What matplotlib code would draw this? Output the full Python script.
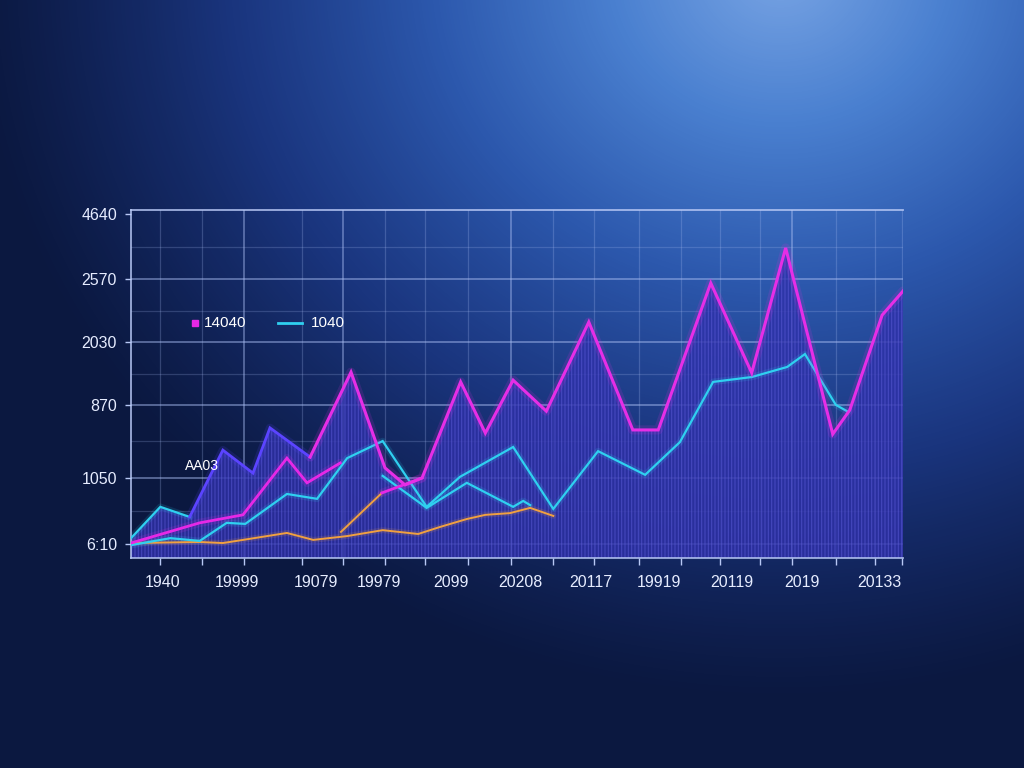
import numpy as np
import matplotlib
matplotlib.use("Agg")
import matplotlib.pyplot as plt
from matplotlib.colors import LinearSegmentedColormap

plt.rcParams['font.family'] = ['Liberation Sans', 'DejaVu Sans']
plt.rcParams['hatch.linewidth'] = 0.8

# ---------------- data (0-100 index scale) ----------------
main_x = [0, 3.8, 7.6, 11.9, 15.8, 18.0, 23.2, 28.5, 32.9, 35.5, 37.7, 42.7, 45.9, 49.5,
          53.8, 59.3, 65.0, 68.3, 75.1, 80.4, 84.8, 90.9, 93.1, 97.3, 100]
main_y = [5.7, 14.7, 11.8, 31.0, 24.4, 37.4, 29.0, 53.4, 25.9, 21.0, 23.0, 50.6, 35.9, 51.1,
          42.2, 67.8, 36.8, 36.8, 79.0, 53.2, 89.1, 35.6, 42.5, 69.8, 76.7]

mag2_x = [0, 8.9, 14.5, 20.2, 22.8, 27.1]
mag2_y = [4.3, 10.1, 12.4, 28.7, 21.6, 27.3]

mag3_x = [32.5, 37.7]
mag3_y = [18.7, 23.0]

cyan_x = [0, 5.1, 8.9, 12.4, 14.8, 20.2, 24.1, 28.0, 32.6, 38.3, 42.6, 49.5, 54.7, 60.5,
          66.6, 71.1, 75.4, 80.4, 85.0, 87.3, 91.3, 92.9]
cyan_y = [3.7, 5.7, 4.9, 10.1, 9.8, 18.4, 17.0, 28.7, 33.6, 14.7, 23.3, 31.9, 14.1, 30.7,
          23.9, 33.3, 50.6, 52.0, 54.9, 58.6, 44.0, 42.0]

cyan2_x = [32.6, 38.3, 43.5, 49.5, 50.8, 51.7]
cyan2_y = [23.6, 14.4, 21.6, 14.7, 16.4, 15.2]

orange_x = [0, 8.9, 11.9, 14.5, 20.2, 23.6, 28.0, 32.6, 37.2, 40.0, 43.5, 45.9, 49.1, 51.7, 54.7]
orange_y = [4.3, 4.6, 4.3, 5.2, 7.2, 5.2, 6.3, 8.0, 6.9, 8.9, 11.2, 12.4, 12.9, 14.4, 12.1]

orange2_x = [27.2, 32.5]
orange2_y = [7.5, 18.7]

ytick_pos = [98.9, 80.2, 62.1, 44.0, 23.0, 4.0]
ytick_labels = ["4640", "2570", "2030", "870", "1050", "6:10"]
yminor_pos = [89.5, 71.0, 53.0, 33.5, 13.5]

xtick_pos = [4.1, 13.7, 24.0, 32.1, 41.5, 50.5, 59.5, 68.4, 77.8, 86.9, 97.0]
xtick_labels = ["1940", "19999", "19079", "19979", "2099", "20208", "20117",
                "19919", "20119", "2019", "20133"]
xgrid_pos = [3.8, 9.2, 14.6, 22.2, 27.5, 32.9, 38.1, 43.7, 49.2, 54.7, 60.0, 65.8,
             71.2, 76.3, 81.5, 85.6, 91.3, 96.4, 99.9]
xgrid_major = [14.6, 27.5, 49.2, 85.6]

legend_labels = ["14040", "1040"]
annot_text = "AA03"

# ---------------- figure & background ----------------
W, H = 1024, 768
fig = plt.figure(figsize=(W / 100, H / 100), dpi=100)

bg = fig.add_axes([0, 0, 1, 1], zorder=-10)
yy, xx = np.mgrid[0:H, 0:W]
d = np.sqrt(((xx - 780) / 1.0) ** 2 + ((yy + 30) / 0.9) ** 2)
t = np.clip(1 - d / 820, 0, 1) ** 1.25
bg_cmap = LinearSegmentedColormap.from_list(
    'bgblue', [(0.0, '#0b1840'), (0.25, '#1a357e'), (0.5, '#2c58ad'),
               (0.75, '#4a80d0'), (1.0, '#78a4e4')])
bg.imshow(t, cmap=bg_cmap, vmin=0, vmax=1, aspect='auto', extent=[0, 1, 0, 1], origin='upper')
bg.axis('off')

# ---------------- chart axes ----------------
ax = fig.add_axes([131 / W, 1 - 558 / H, 772 / W, 348 / H])
ax.set_facecolor('none')
ax.set_xlim(0, 100)
ax.set_ylim(0, 100)

gridc = '#a9bdf2'
for y in ytick_pos[1:]:
    ax.axhline(y, color=gridc, lw=1.2, alpha=0.55, zorder=1)
for y in yminor_pos:
    ax.axhline(y, color=gridc, lw=0.9, alpha=0.22, zorder=1)
for x in xgrid_pos:
    major = x in xgrid_major
    ax.axvline(x, color=gridc, lw=1.2 if major else 0.9, alpha=0.5 if major else 0.25, zorder=1)

# filled area under main envelope
ax.fill_between(main_x, main_y, 0, facecolor='#2e30a8', alpha=0.82, lw=0, zorder=2)
ax.fill_between(main_x, main_y, 0, facecolor='none', edgecolor='#5c5cd8', hatch='|||||',
                lw=0, alpha=0.55, zorder=2)


def glow_line(xs, ys, color, lw=1.8, z=4):
    ax.plot(xs, ys, color=color, lw=lw * 3.0, alpha=0.14, solid_capstyle='round', zorder=z)
    ax.plot(xs, ys, color=color, lw=lw, solid_joinstyle='miter', zorder=z + 0.1)


# orange
glow_line(orange_x, orange_y, '#f0a040', 1.4)
glow_line(orange2_x, orange2_y, '#f0a040', 1.4)
# cyan
glow_line(cyan_x, cyan_y, '#2fd0f0', 1.6)
glow_line(cyan2_x, cyan2_y, '#2fd0f0', 1.6)
# magenta secondary
glow_line(mag2_x, mag2_y, '#e628e6', 2.0)
glow_line(mag3_x, mag3_y, '#e628e6', 2.0)
# main envelope: cyan start, purple section, magenta rest
glow_line(main_x[:3], main_y[:3], '#2fd0f0', 1.6, z=5)
glow_line(main_x[2:7], main_y[2:7], '#5b44ff', 2.0, z=5)
glow_line(main_x[6:], main_y[6:], '#e62ee6', 2.2, z=5)

ax.text(9.2, 26.4, annot_text, color='white', fontsize=10, ha='center', va='center', zorder=6)

# legend (drawn in axes-fraction coordinates)
tr = ax.transAxes
ax.plot([0.083], [0.675], marker='s', color='#e628e6', markersize=5, transform=tr,
        clip_on=False, zorder=6)
ax.text(0.094, 0.675, legend_labels[0], color='white', fontsize=11, va='center',
        ha='left', transform=tr, zorder=6)
ax.plot([0.190, 0.221], [0.675, 0.675], color='#2fd0f0', lw=2, transform=tr,
        clip_on=False, zorder=6)
ax.text(0.233, 0.675, legend_labels[1], color='white', fontsize=11, va='center',
        ha='left', transform=tr, zorder=6)

# ticks
ax.set_yticks(ytick_pos)
ax.set_yticklabels(ytick_labels)
ax.set_xticks(xtick_pos)
ax.set_xticklabels(xtick_labels)
ax.set_xticks(xgrid_pos, minor=True)
ax.tick_params(axis='x', which='major', length=0, pad=12, labelsize=11.5, labelcolor='#e6ecff')
ax.tick_params(axis='x', which='minor', length=5, width=1, color='#b8c8f5', direction='out')
ax.tick_params(axis='y', which='major', length=4, width=1, color='#b8c8f5', pad=6,
               labelsize=11.5, labelcolor='#e6ecff')

for side in ['left', 'bottom', 'top']:
    ax.spines[side].set_color('#b8c8f5')
    ax.spines[side].set_linewidth(1.3)
    ax.spines[side].set_alpha(0.85)
ax.spines['right'].set_visible(False)

fig.savefig('out.png', dpi=100)
